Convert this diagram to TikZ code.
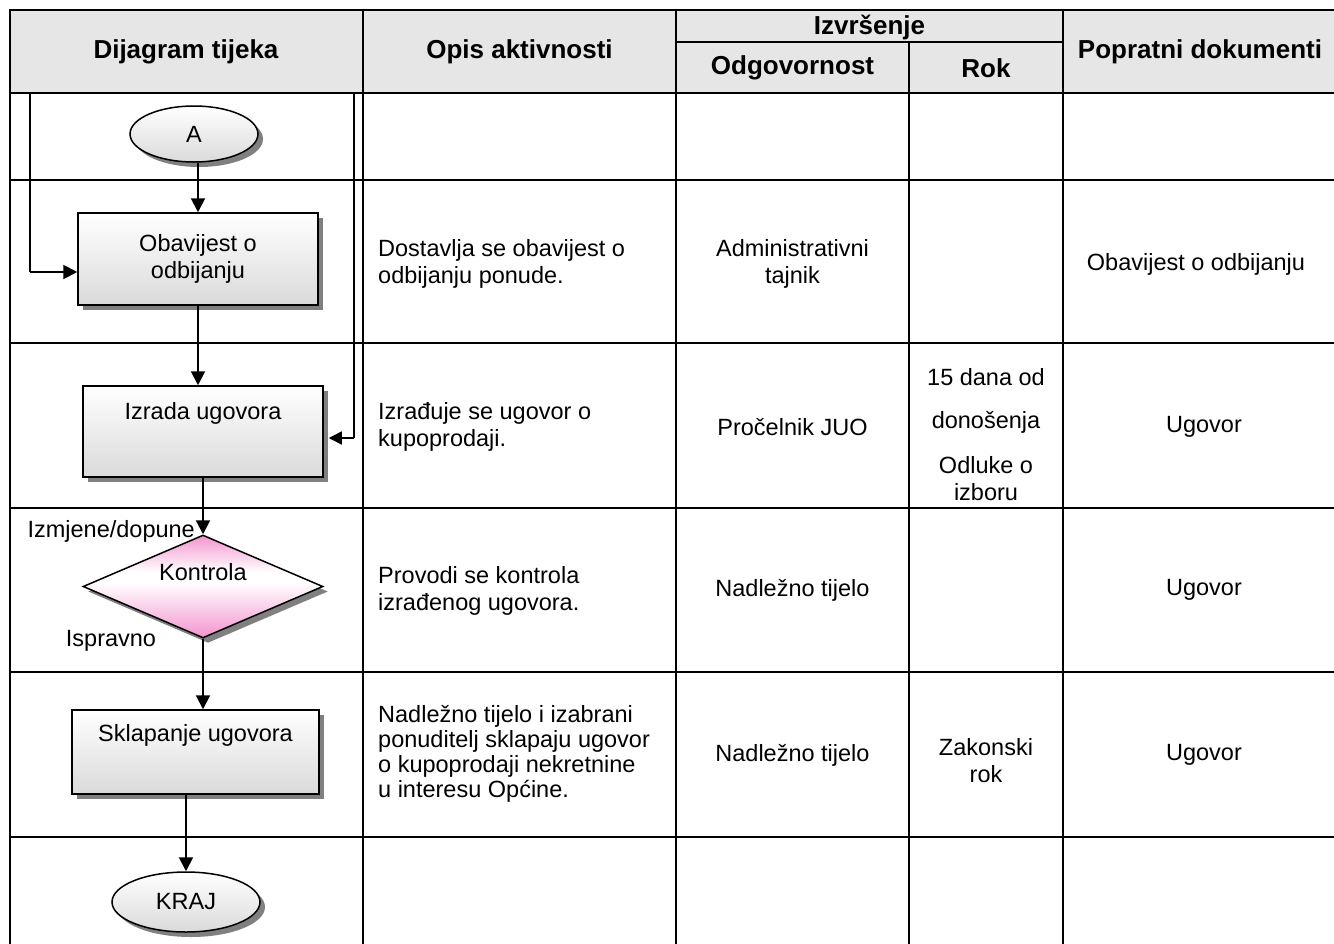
\documentclass[tikz,border=0pt]{standalone}
\usepackage{fontspec}
\setmainfont{Liberation Sans}
\usetikzlibrary{shapes.geometric,shadows,arrows.meta,calc}
\definecolor{hdrgray}{RGB}{230,230,230}
\definecolor{shadowgray}{RGB}{128,128,128}
\definecolor{boxgray}{RGB}{218,218,218}
\definecolor{pinkfill}{RGB}{243,148,206}
\pgfdeclareverticalshading{pinkshade}{100bp}{color(0bp)=(pinkfill); color(25bp)=(pinkfill); color(52bp)=(white); color(57bp)=(white); color(75bp)=(pinkfill); color(100bp)=(pinkfill)}
\begin{document}
\begin{tikzpicture}[x=1pt,y=-1pt,
  body/.style={font=\fontsize{23.5}{27}\selectfont, inner sep=0pt},
  head/.style={font=\fontsize{26}{30}\selectfont\bfseries, inner sep=0pt},
  grid/.style={line width=2.5pt},
  shad/.style={drop shadow={shadow xshift=5pt, shadow yshift=-5pt, fill=shadowgray, opacity=1}},
  procbox/.style={rectangle, draw, line width=1.5pt, top color=white, bottom color=boxgray, shad, inner sep=0pt, align=center, font=\fontsize{23.5}{27}\selectfont},
  term/.style={ellipse, draw, line width=1.5pt, top color=white, bottom color=boxgray, shad, inner sep=0pt, font=\fontsize{23.5}{27}\selectfont},
  decision/.style={diamond, draw, line width=1.5pt, shading=pinkshade, shad, inner sep=0pt},
  flow/.style={line width=2pt, -{Triangle[length=14pt,width=14pt]}},
  thinflow/.style={line width=1.5pt, -{Triangle[length=13pt,width=13pt]}},
  loopline/.style={line width=1.2pt},
]
\useasboundingbox (0,0) rectangle (1334,943);
% header background
\fill[hdrgray] (10,10) rectangle (1345,93);
% flowchart nodes
\node[term, minimum width=128pt, minimum height=56pt] (A) at (194,134) {A};
\node[procbox, minimum width=240pt, minimum height=92pt] (obav) at (198,259) {Obavijest o\\odbijanju};
\node[procbox, minimum width=240pt, minimum height=91pt] (izrada) at (203,431.5) {Izrada ugovora\\[14pt]\mbox{}};
\node[decision, minimum width=240pt, minimum height=103pt] (kontrola) at (203,586.5) {};
\node[body] (kontrolatxt) at (203,572) {Kontrola};
\node[procbox, minimum width=247pt, minimum height=84pt] (sklap) at (195.5,752) {Sklapanje ugovora\\[12pt]\mbox{}};
\node[term, minimum width=148pt, minimum height=60pt] (kraj) at (186,902) {KRAJ};
% loops
\coordinate (ltop) at (30,93);
\coordinate (lbend) at (30,272);
\coordinate (rtop) at (354,93);
\coordinate (rbend) at (354,438);
\draw[loopline] (ltop) -- (lbend);
\draw[flow] (lbend) -- (lbend -| obav.west);
\draw[loopline] (rtop) -- (rbend);
\draw[thinflow, shorten >=5pt] (rbend) -- (rbend -| izrada.east);
% flow connectors
\draw[flow] (obav.north |- A.south) -- (obav.north);
\draw[flow] (obav.south) -- (obav.south |- izrada.north);
\draw[flow] (izrada.south) -- (kontrola.north);
\draw[flow] (kontrola.south) -- (kontrola.south |- sklap.north);
\draw[flow] (kraj.north |- sklap.south) -- (kraj.north);
% labels at decision
\node[body, anchor=east] (izmj) at (195,531) {Izmjene/dopune};
\node[body] (ispr) at (111,641) {Ispravno};
% grid
\draw[grid] (10,960) -- (10,10) -- (1345,10);
\foreach \yy in {93,180,343,508,672,837} {\draw[grid] (10,\yy) -- (1345,\yy);}
\draw[grid] (676,42) -- (1063,42);
\foreach \xx in {363,676,1063} {\draw[grid] (\xx,10) -- (\xx,960);}
\draw[grid] (909,42) -- (909,960);
% headers
\node[head] (h1) at (186,52) {Dijagram tijeka};
\node[head] (h2) at (519.5,52) {Opis aktivnosti};
\node[head] (h3) at (869.5,27) {Izvršenje};
\node[head] (h4) at (792.5,68) {Odgovornost};
\node[head] (h5) at (986,68) {Rok};
\node[head] (h6) at (1200,52) {Popratni dokumenti};
% row 1
\node[body, anchor=west, align=left] (d1) at (378,263.5) {Dostavlja se obavijest o\\odbijanju ponude.};
\node[body, align=center] (o1) at (792.5,263.5) {Administrativni\\tajnik};
\node[body] (p1) at (1196,264) {Obavijest o odbijanju};
% row 2
\node[body, anchor=west, align=left] (d2) at (378,427) {Izrađuje se ugovor o\\kupoprodaji.};
\node[body] (o2) at (792.5,427) {Pročelnik JUO};
\node[body, align=center] (r2) at (986,435) {15 dana od\\[16pt]donošenja\\[18pt]Odluke o\\izboru};
\node[body] (p2) at (1204,427) {Ugovor};
% row 3
\node[body, anchor=west, align=left] (d3) at (378,591) {Provodi se kontrola\\izrađenog ugovora.};
\node[body] (o3) at (792.5,590) {Nadležno tijelo};
\node[body] (p3) at (1204,590) {Ugovor};
% row 4
\node[body, anchor=west, align=left, font=\fontsize{23.5}{25}\selectfont] (d4) at (378,753.5) {Nadležno tijelo i izabrani\\ponuditelj sklapaju ugovor\\o kupoprodaji nekretnine\\u interesu Općine.};
\node[body] (o4) at (792.5,755) {Nadležno tijelo};
\node[body, align=center] (r4) at (986,760.5) {Zakonski\\rok};
\node[body] (p4) at (1204,755) {Ugovor};
\end{tikzpicture}
\end{document}
